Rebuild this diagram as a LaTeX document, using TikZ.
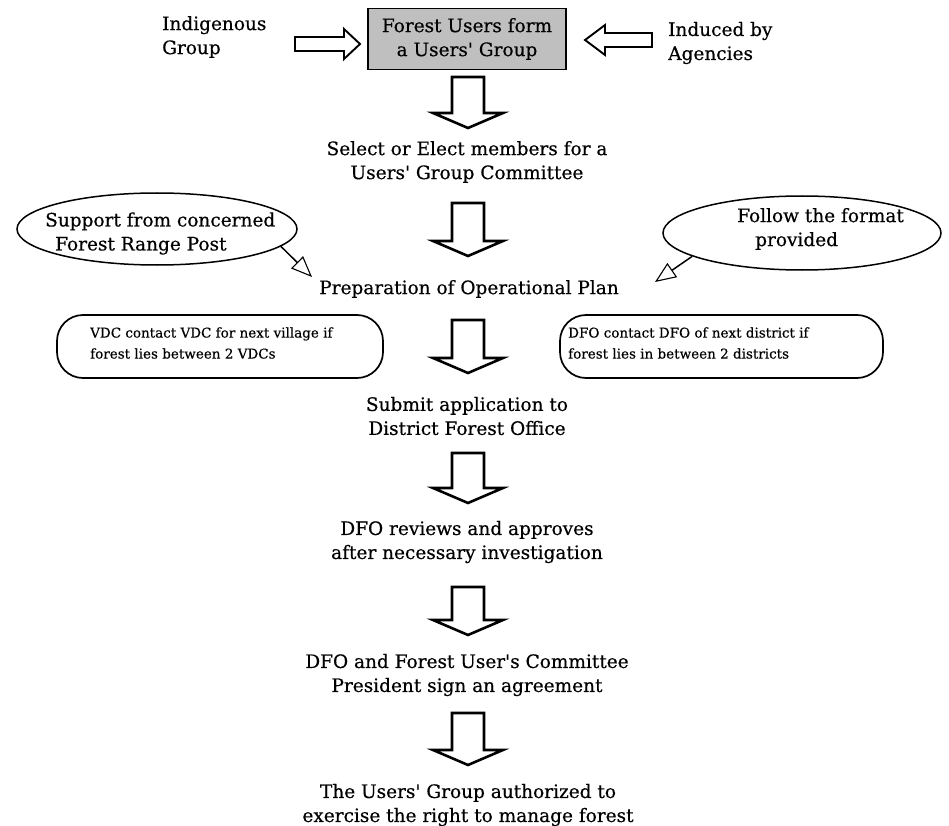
\documentclass[tikz,border=0pt]{standalone}
\usepackage{fontspec}
\setmainfont{DejaVu Serif}[FakeBold=0.4]
\usetikzlibrary{arrows.meta,calc,shapes.geometric}
\newcommand\varrow[3]{%
  \draw[blk] (#1-16,#2) -- (#1+16,#2) -- (#1+16,#3-15) -- (#1+35,#3-15) -- (#1,#3)
    -- (#1-35,#3-15) -- (#1-16,#3-15) -- cycle;}
\newcommand\q{\textquotesingle}
\begin{document}
\begin{tikzpicture}[x=1pt,y=-1pt,
  txt/.style={font=\fontsize{18.5}{24}\selectfont, align=center, inner sep=0pt},
  smalltxt/.style={font=\fontsize{13.5}{21}\selectfont, align=left, inner sep=0pt},
  blk/.style={draw=black, line width=2.6pt, fill=white, line join=miter},
  hblk/.style={draw=black, line width=1.9pt, fill=white, line join=miter},
  oval/.style={draw, ellipse, line width=1.5pt, inner sep=0pt},
  rbox/.style={draw, rounded corners=26pt, line width=1.7pt, inner sep=0pt},
  pointer/.style={line width=1.5pt, -{Triangle[open,length=21pt,width=17pt,line width=1.1pt]}}
]
\useasboundingbox (0,0) rectangle (949,826);
\fill[white] (0,0) rectangle (949,826);

% top row
\node[draw, line width=1.8pt, fill=gray!50, minimum width=198pt, minimum height=61pt,
      inner sep=0pt, txt] (fu) at (467,39) {Forest Users form\\a Users\q\ Group};
\node[txt, align=left, anchor=west] (ind) at (162,37) {Indigenous\\Group};
\node[txt, align=left, anchor=west] (ag) at (668,43) {Induced by\\Agencies};
\draw[hblk] (295,37) -- (344,37) -- (344,29) -- (360,44) -- (344,59) -- (344,51) -- (295,51) -- cycle;
\draw[hblk] (652,33) -- (605,33) -- (605,25) -- (585,40) -- (605,55) -- (605,47) -- (652,47) -- cycle;

% main flow text
\node[txt] (sel) at (467,162) {Select or Elect members for a\\Users\q\ Group Committee};
\node[txt] (prep) at (469,289) {Preparation of Operational Plan};
\node[txt] (sub) at (467,416) {Submit application to\\District Forest Office};
\node[txt] (rev) at (467,542) {DFO reviews and approves\\after necessary investigation};
\node[txt] (agr) at (467,675) {DFO and Forest User\q s Committee\\President sign an agreement};
\node[txt] (auth) at (468,805) {The Users\q\ Group authorized to\\exercise the right to manage forest};

% block arrows
\varrow{468}{77}{128}
\varrow{468}{203}{256}
\varrow{468}{320}{373}
\varrow{468}{453}{503}
\varrow{468}{587}{635}
\varrow{468}{713}{765}

% ellipses
\node[oval, minimum width=280pt, minimum height=72pt] (sup) at (157,229) {};
\node[txt, align=left, anchor=west] (suptxt) at (45,233.5) {Support from concerned\\\hspace{10pt}Forest Range Post};
\node[oval, minimum width=278pt, minimum height=74pt] (fol) at (802,233) {};
\node[txt, align=left, anchor=west] (foltxt) at (737,229) {Follow the format\\\hspace{18pt}provided};
\coordinate (t1) at (312,277);
\coordinate (t2) at (655,282);
\draw[pointer] (sup.-8) -- (t1);
\draw[pointer] (fol.192) -- (t2);

% rounded boxes
\node[rbox, minimum width=326pt, minimum height=63pt] (vdc) at (220,346.5) {};
\node[smalltxt, anchor=west] (vdctxt) at (90,343) {VDC contact VDC for next village if\\forest lies between 2 VDCs};
\node[rbox, minimum width=323pt, minimum height=63pt] (dfob) at (721.5,346.5) {};
\node[smalltxt, anchor=west] (dfotxt) at (568,343) {DFO contact DFO of next district if\\forest lies in between 2 districts};
\end{tikzpicture}
\end{document}
